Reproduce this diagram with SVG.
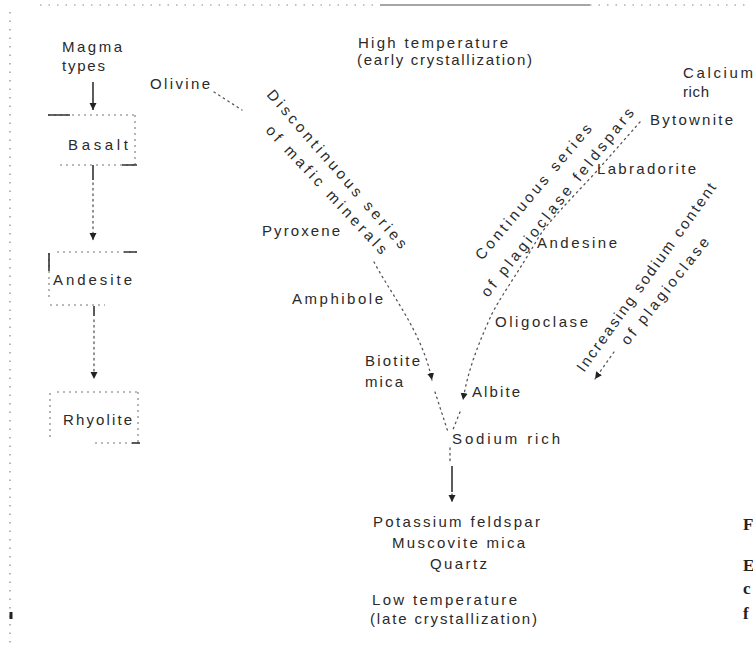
<svg xmlns="http://www.w3.org/2000/svg" width="753" height="650" viewBox="0 0 753 650">
<defs>
<marker id="ah" markerWidth="9" markerHeight="9" refX="7" refY="4" orient="auto" markerUnits="userSpaceOnUse"><path d="M0,0.5 L7,4 L0,7.5 Z" fill="#222"/></marker>
</defs>
<style>
.t{font-family:"Liberation Sans",Arial,sans-serif;font-size:15px;fill:#2a2a2a;}
.c{font-family:"Liberation Serif","Times New Roman",serif;font-size:17px;font-weight:bold;fill:#222;}
.dot{fill:none;stroke:#555;stroke-width:1.3;stroke-dasharray:1.5 4;stroke-linecap:round;}
.sol{fill:none;stroke:#333;stroke-width:1.6;}
.box{fill:none;stroke:#777;stroke-width:1.1;stroke-dasharray:2 4;}
.acc{fill:none;stroke:#333;stroke-width:1.6;}
.pg{fill:none;stroke:#888;stroke-width:1.2;stroke-dasharray:1.5 7;}
</style>
<rect width="753" height="650" fill="#fff"/>

<g id="page-edges">
<path class="pg" d="M40,5 H380 M590,5 H745"/>
<path d="M380,5 H590" stroke="#888" stroke-width="1.5"/>
<path class="pg" d="M10,12 V648" stroke-dasharray="1.5 22"/>
<rect x="9.5" y="612" width="3" height="7" fill="#222"/>
</g>

<g id="connectors">
<path class="sol" d="M93,82 V110" marker-end="url(#ah)"/>
<path class="acc" d="M93,165 V180"/>
<path class="dot" d="M93,183 V240" marker-end="url(#ah)"/>
<path class="acc" d="M94,306 V316"/>
<path class="dot" d="M94,320 V379" marker-end="url(#ah)"/>
<path class="dot" d="M214,92 L242,110"/>
<path class="dot" d="M374,262 C392,296 422,332 432,380" marker-end="url(#ah)"/>
<path class="dot" d="M435,392 L448,432"/>
<path class="dot" d="M640,122 L596,172 C570,200 545,225 537,240 C515,278 498,300 490,318 C478,345 468,370 463,400" marker-end="url(#ah)"/>
<path class="dot" d="M460,412 L452,432"/>
<path class="dot" d="M614,352 L595,379" marker-end="url(#ah)"/>
<path class="dot" d="M450,448 V464"/>
<path class="sol" d="M452,466 V492"/>
<path class="dot" d="M452,494 V502" marker-end="url(#ah)"/>
</g>

<g id="magma-types"><text class="t" x="62" y="52" textLength="60" lengthAdjust="spacing">Magma</text><text class="t" x="62" y="71" textLength="43" lengthAdjust="spacing">types</text></g>

<g id="basalt">
<path class="box" d="M48,115 H137 M135,115 V165 M60,165 H137"/>
<path class="acc" d="M48,115 H70 M122,165 H137"/>
<text class="t" x="68" y="150" textLength="60" lengthAdjust="spacing">Basalt</text>
</g>

<g id="andesite">
<path class="box" d="M57,252 H137 M49,253 V300 M50,305 H105"/>
<path class="acc" d="M124,252 H137 M49,253 V271"/>
<text class="t" x="53" y="285" textLength="79" lengthAdjust="spacing">Andesite</text>
</g>

<g id="rhyolite">
<path class="box" d="M57,392 H138 M50,393 V440 M138,392 V443 M95,443 H140"/>
<path class="acc" d="M132,443 H140"/>
<text class="t" x="63" y="425" textLength="69" lengthAdjust="spacing">Rhyolite</text>
</g>

<g id="high-temperature"><text class="t" x="358" y="48" textLength="150" lengthAdjust="spacing">High temperature</text><text class="t" x="357" y="65" textLength="175" lengthAdjust="spacing">(early crystallization)</text></g>

<g id="olivine"><text class="t" x="150" y="89" textLength="60" lengthAdjust="spacing">Olivine</text></g>
<g id="pyroxene"><text class="t" x="262" y="236" textLength="78" lengthAdjust="spacing">Pyroxene</text></g>
<g id="amphibole"><text class="t" x="292" y="304" textLength="91" lengthAdjust="spacing">Amphibole</text></g>
<g id="biotite-mica"><text class="t" x="365" y="366" textLength="55" lengthAdjust="spacing">Biotite</text><text class="t" x="365" y="387" textLength="38" lengthAdjust="spacing">mica</text></g>

<g id="discontinuous-label">
<text class="t" transform="translate(266,95) rotate(49)" textLength="205" lengthAdjust="spacing">Discontinuous series</text>
<text class="t" transform="translate(265,131) rotate(47)" textLength="170" lengthAdjust="spacing">of mafic minerals</text>
</g>

<g id="calcium-rich"><text class="t" x="683" y="78" textLength="70" lengthAdjust="spacing">Calcium</text><text class="t" x="683" y="97" textLength="26" lengthAdjust="spacing">rich</text></g>
<g id="bytownite"><text class="t" x="650" y="125" textLength="83" lengthAdjust="spacing">Bytownite</text></g>
<g id="labradorite"><text class="t" x="597" y="174" textLength="99" lengthAdjust="spacing">Labradorite</text></g>
<g id="andesine"><text class="t" x="537" y="248" textLength="80" lengthAdjust="spacing">Andesine</text></g>
<g id="oligoclase"><text class="t" x="495" y="327" textLength="93" lengthAdjust="spacing">Oligoclase</text></g>
<g id="albite"><text class="t" x="472" y="397" textLength="48" lengthAdjust="spacing">Albite</text></g>
<g id="sodium-rich"><text class="t" x="452" y="444" textLength="108" lengthAdjust="spacing">Sodium rich</text></g>

<g id="continuous-label">
<text class="t" transform="translate(482,261) rotate(-50)" textLength="172" lengthAdjust="spacing">Continuous series</text>
<text class="t" transform="translate(488,298) rotate(-51.6)" textLength="236" lengthAdjust="spacing">of plagioclase feldspars</text>
</g>

<g id="increasing-label">
<text class="t" transform="translate(584,373) rotate(-54.4)" textLength="228" lengthAdjust="spacing">Increasing sodium content</text>
<text class="t" transform="translate(628,346) rotate(-51.7)" textLength="132" lengthAdjust="spacing">of plagioclase</text>
</g>

<g id="late-minerals">
<text class="t" x="373" y="527" textLength="167" lengthAdjust="spacing">Potassium feldspar</text>
<text class="t" x="392" y="548" textLength="133" lengthAdjust="spacing">Muscovite mica</text>
<text class="t" x="430" y="569" textLength="57" lengthAdjust="spacing">Quartz</text>
</g>

<g id="low-temperature"><text class="t" x="372" y="605" textLength="145" lengthAdjust="spacing">Low temperature</text><text class="t" x="370" y="624" textLength="167" lengthAdjust="spacing">(late crystallization)</text></g>

<g id="caption-fragments">
<text class="c" x="743" y="530">F</text>
<text class="c" x="743" y="571">E</text>
<text class="c" x="743" y="594">c</text>
<text class="c" x="743" y="619">f</text>
</g>
</svg>
